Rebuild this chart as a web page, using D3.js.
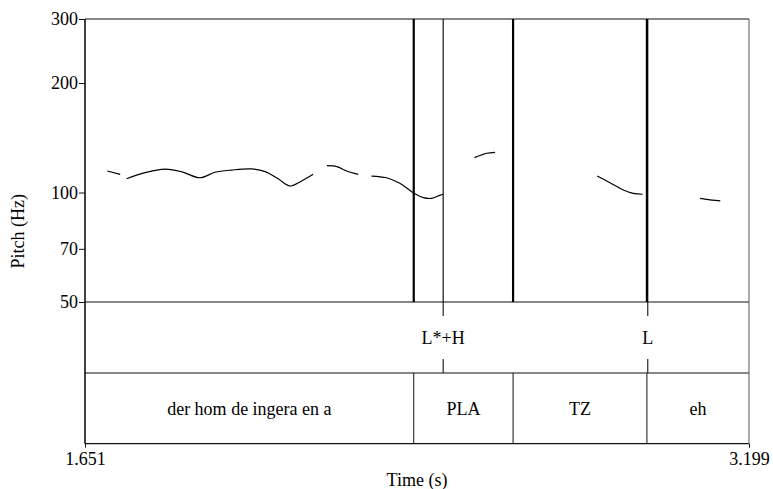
<!DOCTYPE html>
<html>
<head>
<meta charset="utf-8">
<script src="https://cdn.jsdelivr.net/npm/d3@7"></script>
<style>
  html, body { margin: 0; padding: 0; background: #fff; }
  svg text { font-family: "Liberation Serif", "DejaVu Serif", serif; font-size: 18px; fill: #000; }
</style>
</head>
<body>
<svg id="chart" width="773" height="489" font-family="Liberation Serif, DejaVu Serif, serif"></svg>
<script>
// time range and pitch axis
const timeRange = [1.651, 3.199];
const pitchRange = [50, 300];
const pitchTicks = [50, 70, 100, 200, 300];

// pitch contour, one array per voiced stretch: [time (s), F0 (Hz)]
const pitchSeg1 = [[1.703, 114.6], [1.733, 112.2]];
const pitchSeg2 = [[1.748, 109.1], [1.791, 113.4], [1.838, 115.9], [1.877, 114.0], [1.919, 109.8],
  [1.954, 113.7], [1.993, 115.3], [2.040, 116.1], [2.071, 114.1], [2.102, 108.9],
  [2.129, 104.2], [2.156, 107.6], [2.183, 112.2]];
const pitchSeg3 = [[2.215, 118.5], [2.238, 117.8], [2.261, 114.6], [2.288, 112.2]];
const pitchSeg4 = [[2.319, 111.0], [2.354, 109.8], [2.385, 106.0], [2.416, 99.9], [2.440, 96.8],
  [2.459, 96.4], [2.479, 98.4], [2.486, 98.9]];
const pitchSeg5 = [[2.559, 124.7], [2.575, 126.8], [2.588, 128.2], [2.607, 129.0]];
const pitchSeg6 = [[2.845, 111.0], [2.875, 106.4], [2.906, 101.6], [2.929, 99.5], [2.951, 98.9]];
const pitchSeg7 = [[3.085, 96.4], [3.100, 95.8], [3.132, 94.8]];
const pitchSegments = [pitchSeg1, pitchSeg2, pitchSeg3, pitchSeg4, pitchSeg5, pitchSeg6, pitchSeg7];

// tone tier (points) and word tier (intervals)
const tonePoints = [2.486, 2.963];
const toneLabels = ["L*+H", "L"];
const wordBoundaries = [2.4174, 2.649, 2.961];
const wordLabels = ["der hom de ingera en a", "PLA", "TZ", "eh"];

const serif = "Liberation Serif, DejaVu Serif, serif";
const svg = d3.select("#chart");
const plotLeft = 85, plotRight = 749, plotTop = 19;
const pitchBottom = 302, tier1Bottom = 373, tier2Bottom = 443.7;

const x = d3.scaleLinear().domain(timeRange).range([plotLeft, plotRight]);
const y = d3.scaleLog().domain(pitchRange).range([pitchBottom, plotTop]);

// frame and tier separators
const frame = svg.append("g").attr("stroke", "#111").attr("stroke-width", 1.2);
[plotTop, pitchBottom, tier1Bottom, tier2Bottom].forEach(yy => {
  frame.append("line").attr("x1", plotLeft).attr("x2", plotRight).attr("y1", yy).attr("y2", yy);
});
frame.append("line").attr("x1", plotLeft).attr("x2", plotLeft).attr("y1", plotTop).attr("y2", tier2Bottom).attr("stroke-width", 1.6);
frame.append("line").attr("x1", plotRight).attr("x2", plotRight).attr("y1", plotTop).attr("y2", tier2Bottom).attr("stroke", "#555").attr("stroke-width", 1);

// y axis
const yAxis = d3.axisLeft(y).tickValues(pitchTicks).tickFormat(d3.format("d")).tickSize(6).tickPadding(1);
const ya = svg.append("g").attr("transform", `translate(${plotLeft},0)`).call(yAxis)
  .attr("font-family", serif).attr("font-size", 18);
ya.select(".domain").remove();
ya.selectAll("line").attr("stroke", "#111");

svg.append("text")
  .attr("transform", `translate(24,${(plotTop + tier2Bottom) / 2}) rotate(-90)`)
  .attr("text-anchor", "middle")
  .text("Pitch (Hz)");

// x axis: only the end values
const xAxis = d3.axisBottom(x).tickValues(timeRange).tickFormat(d3.format(".3f")).tickSize(4).tickPadding(5);
const xa = svg.append("g").attr("transform", `translate(0,${tier2Bottom})`).call(xAxis)
  .attr("font-family", serif).attr("font-size", 18);
xa.select(".domain").remove();
xa.selectAll("line").attr("stroke", "#111");

svg.append("text")
  .attr("x", (plotLeft + plotRight) / 2).attr("y", 486)
  .attr("text-anchor", "middle")
  .text("Time (s)");

// boundary lines through the pitch area
svg.append("g").selectAll("line").data(wordBoundaries).join("line")
  .attr("x1", d => x(d)).attr("x2", d => x(d))
  .attr("y1", plotTop).attr("y2", pitchBottom)
  .attr("stroke", "#000").attr("stroke-width", 2.2);
svg.append("g").selectAll("line").data(tonePoints).join("line")
  .attr("x1", d => x(d)).attr("x2", d => x(d))
  .attr("y1", plotTop).attr("y2", pitchBottom)
  .attr("stroke", "#000").attr("stroke-width", 1.1);

// pitch contour
const line = d3.line().x(d => x(d[0])).y(d => y(d[1])).curve(d3.curveCatmullRom);
svg.append("g").selectAll("path").data(pitchSegments).join("path")
  .attr("d", line)
  .attr("fill", "none").attr("stroke", "#000").attr("stroke-width", 1.2);

// tone tier: point ticks and labels
const t1mid = (pitchBottom + tier1Bottom) / 2;
const tone = svg.append("g");
tonePoints.forEach((t, i) => {
  tone.append("line").attr("x1", x(t)).attr("x2", x(t)).attr("y1", pitchBottom).attr("y2", pitchBottom + 14)
    .attr("stroke", "#111").attr("stroke-width", 1.1);
  tone.append("line").attr("x1", x(t)).attr("x2", x(t)).attr("y1", tier1Bottom - 14).attr("y2", tier1Bottom)
    .attr("stroke", "#111").attr("stroke-width", 1.1);
  tone.append("text").attr("x", x(t)).attr("y", t1mid).attr("dy", "0.35em")
    .attr("text-anchor", "middle").text(toneLabels[i]);
});

// word tier: interval boundaries and labels
const t2mid = (tier1Bottom + tier2Bottom) / 2;
const edges = [timeRange[0], ...wordBoundaries, timeRange[1]];
const words = svg.append("g");
wordBoundaries.forEach(t => {
  words.append("line").attr("x1", x(t)).attr("x2", x(t)).attr("y1", tier1Bottom).attr("y2", tier2Bottom)
    .attr("stroke", "#111").attr("stroke-width", 1);
});
wordLabels.forEach((w, i) => {
  words.append("text").attr("x", (x(edges[i]) + x(edges[i + 1])) / 2).attr("y", t2mid).attr("dy", "0.35em")
    .attr("text-anchor", "middle").text(w);
});
</script>
</body>
</html>
